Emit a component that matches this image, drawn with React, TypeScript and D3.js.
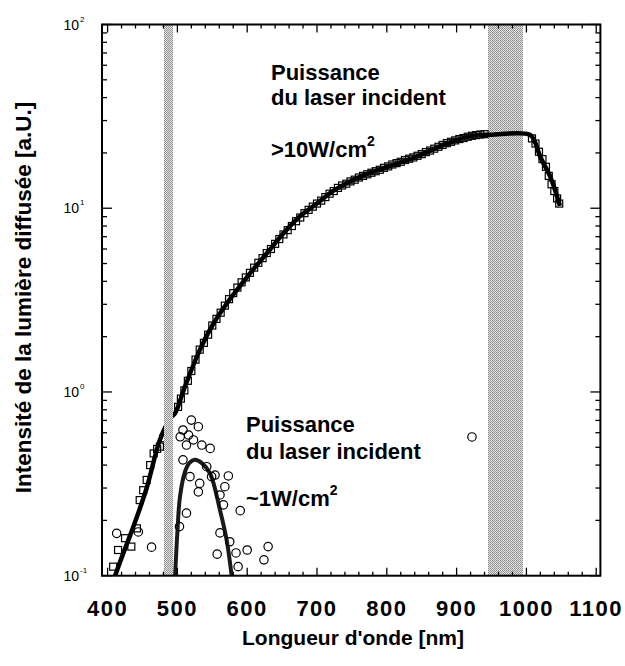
import React from "react";
import * as d3 from "d3";

// ---------- data ----------
const xTickValues = [400, 500, 600, 700, 800, 900, 1000, 1100];
const yDecades = [0.1, 1, 10, 100];
const yTickExponents = ["-1", "0", "1", "2"];

// shaded wavelength bands [nm]
const bandLow = [481, 494];
const bandHigh = [945, 995];

// high-power spectrum (>10 W/cm2): square markers
const highX = [408, 415, 425, 434, 442, 446, 451, 456, 461, 466, 471, 475, 480, 486, 501, 505, 510, 515, 520, 526, 532, 538, 544, 550, 556, 562, 568, 574, 580, 586, 592, 598, 604, 610, 616, 622, 628, 634, 640, 646, 652, 658, 664, 670, 676, 682, 688, 694, 700, 706, 712, 718, 724, 730, 736, 742, 748, 754, 760, 766, 772, 778, 784, 790, 796, 802, 808, 814, 820, 826, 832, 838, 844, 850, 856, 862, 868, 874, 880, 886, 892, 898, 904, 910, 916, 922, 928, 934, 940, 1008, 1013, 1018, 1023, 1028, 1032, 1036, 1040, 1044, 1047];
const highY = [0.112, 0.138, 0.16, 0.144, 0.181, 0.258, 0.292, 0.332, 0.4, 0.463, 0.49, 0.504, 0.56, 0.62, 0.83, 0.92, 1.02, 1.15, 1.3, 1.5, 1.7, 1.85, 2.05, 2.3, 2.5, 2.7, 2.95, 3.2, 3.45, 3.7, 3.95, 4.2, 4.45, 4.75, 5.05, 5.35, 5.7, 6.0, 6.4, 6.8, 7.2, 7.6, 8.0, 8.5, 8.9, 9.4, 9.8, 10.2, 10.6, 11.0, 11.5, 12.0, 12.4, 12.9, 13.3, 13.6, 14.0, 14.3, 14.7, 15.0, 15.3, 15.6, 15.9, 16.2, 16.6, 16.9, 17.3, 17.6, 17.9, 18.3, 18.6, 18.9, 19.3, 19.7, 20.2, 20.6, 21.1, 21.6, 22.1, 22.6, 23.0, 23.4, 23.8, 24.1, 24.5, 24.8, 25.0, 25.2, 25.3, 24.0, 22.5, 20.3, 18.5, 16.8, 15.0, 13.5, 12.4, 11.3, 10.6];

// high-power fitted curve
const highFitX = [410, 420, 437, 456, 475, 490, 497, 510, 532, 550, 571, 604, 630, 652, 675, 700, 720, 738, 765, 795, 820, 843, 865, 886, 905, 925, 945, 1005, 1012, 1020, 1034, 1048];
const highFitY = [0.098, 0.125, 0.185, 0.3, 0.55, 0.72, 0.77, 1.05, 1.69, 2.3, 3.04, 4.42, 5.8, 7.3, 9.0, 10.6, 12.2, 13.4, 15.0, 16.5, 17.8, 19.1, 20.8, 22.5, 23.8, 24.9, 25.1, 25.1, 23.0, 19.0, 14.9, 10.3];

// low-power spectrum (~1 W/cm2): circle markers
const lowX = [413, 444, 463, 520, 530, 508, 504, 516, 523, 535, 547, 513, 508, 542, 518, 532, 549, 554, 573, 568, 530, 561, 566, 590, 513, 503, 561, 575, 584, 600, 630, 557, 624, 587, 922];
const lowY = [0.17, 0.173, 0.143, 0.703, 0.647, 0.621, 0.57, 0.583, 0.548, 0.514, 0.493, 0.514, 0.427, 0.392, 0.346, 0.318, 0.346, 0.353, 0.349, 0.305, 0.286, 0.275, 0.243, 0.226, 0.219, 0.185, 0.171, 0.153, 0.133, 0.138, 0.144, 0.131, 0.122, 0.112, 0.569];

// low-power fitted curve
const lowFitX = [496.6, 499.9, 503.7, 510.9, 517, 525, 535, 546.7, 561, 570.6, 578];
const lowFitY = [0.098, 0.17, 0.269, 0.368, 0.41, 0.427, 0.41, 0.361, 0.228, 0.156, 0.098];

// ---------- layout ----------
const W = 625;
const H = 666;
const left = 102;
const right = 600.4;
const top = 24.5;
const bottom = 575.7;
const FONT = "'Liberation Sans', Arial, Helvetica, sans-serif";

export default function App() {
  const x = d3.scaleLinear().domain([392, 1106]).range([left, right]);
  const y = d3.scaleLog().domain([0.1, 100]).range([bottom, top]);

  const xMinor = d3.range(400, 1101, 20).filter((v) => v % 100 !== 0);
  const yMinor: number[] = [];
  [0.1, 1, 10].forEach((d) => {
    for (let k = 2; k <= 9; k++) yMinor.push(d * k);
  });

  const highFit = highFitX.map((v, i) => [v, highFitY[i]] as [number, number]);
  const lowFit = lowFitX.map((v, i) => [v, lowFitY[i]] as [number, number]);
  const line = d3
    .line<[number, number]>()
    .x((d) => x(d[0]))
    .y((d) => y(d[1]))
    .curve(d3.curveCatmullRom.alpha(0.5));

  const sq = 7;

  const band = (b: number[], key: string) => (
    <rect
      key={key}
      x={Math.round(x(b[0]))}
      y={top}
      width={Math.round(x(b[1]) - x(b[0]))}
      height={bottom - top}
      fill="url(#dither)"
    />
  );

  return (
    <svg
      width={W}
      height={H}
      style={{ position: "absolute", left: 0, top: 0, background: "#fff" }}
      fontFamily={FONT}
    >
      <defs>
        <pattern id="dither" width="2" height="2" patternUnits="userSpaceOnUse">
          <rect width="2" height="2" fill="#e4e4e4" />
          <rect width="1" height="1" fill="#8a8a8a" />
          <rect x="1" y="1" width="1" height="1" fill="#9a9a9a" />
        </pattern>
        <clipPath id="plotClip">
          <rect x={left} y={top} width={right - left} height={bottom - top} />
        </clipPath>
      </defs>

      {/* band behind curve */}
      {band(bandHigh, "bh")}

      <g clipPath="url(#plotClip)">
        <path d={line(highFit) || ""} fill="none" stroke="#000" strokeWidth={4.5} />
        {highX.map((v, i) => (
          <rect
            key={"s" + i}
            x={x(v) - sq / 2}
            y={y(highY[i]) - sq / 2}
            width={sq}
            height={sq}
            fill="none"
            stroke="#000"
            strokeWidth={1.2}
          />
        ))}
        <path d={line(lowFit) || ""} fill="none" stroke="#1a1a1a" strokeWidth={4} />
        {lowX.map((v, i) => (
          <circle
            key={"c" + i}
            cx={x(v)}
            cy={y(lowY[i])}
            r={4.2}
            fill="none"
            stroke="#000"
            strokeWidth={1.2}
          />
        ))}
      </g>

      {/* band over curve */}
      {band(bandLow, "bl")}

      {/* ticks */}
      <g stroke="#000" strokeWidth={1.3}>
        {xTickValues.map((v) => (
          <g key={"xt" + v}>
            <line x1={x(v)} x2={x(v)} y1={bottom} y2={bottom - 8} />
            <line x1={x(v)} x2={x(v)} y1={top} y2={top + 8} />
          </g>
        ))}
        {xMinor.map((v) => (
          <g key={"xm" + v}>
            <line x1={x(v)} x2={x(v)} y1={bottom} y2={bottom - 4} />
            <line x1={x(v)} x2={x(v)} y1={top} y2={top + 4} />
          </g>
        ))}
        {yDecades.map((v) => (
          <g key={"yt" + v}>
            <line x1={left} x2={left + 10} y1={y(v)} y2={y(v)} />
            <line x1={right} x2={right - 10} y1={y(v)} y2={y(v)} />
          </g>
        ))}
        {yMinor.map((v) => (
          <g key={"ym" + v}>
            <line x1={left} x2={left + 5} y1={y(v)} y2={y(v)} />
            <line x1={right} x2={right - 5} y1={y(v)} y2={y(v)} />
          </g>
        ))}
      </g>

      {/* frame */}
      <rect
        x={left}
        y={top}
        width={right - left}
        height={bottom - top}
        fill="none"
        stroke="#000"
        strokeWidth={2}
      />

      {/* x tick labels */}
      {xTickValues.map((v) => (
        <text
          key={"xl" + v}
          x={x(v)}
          y={616}
          textAnchor="middle"
          fontSize={22}
          fontWeight="bold"
          letterSpacing={1.5}
        >
          {v}
        </text>
      ))}

      {/* y tick labels */}
      {yDecades.map((v) => (
        <text key={"yl" + v} x={79} y={y(v) + 5} textAnchor="end" fontSize={14}>
          10
        </text>
      ))}
      {yDecades.map((v, i) => (
        <text key={"ye" + v} x={80} y={y(v) - 3} fontSize={8}>
          {yTickExponents[i]}
        </text>
      ))}

      {/* axis titles */}
      <text x={242} y={645} fontSize={21} fontWeight="bold">
        Longueur d'onde [nm]
      </text>
      <text
        transform={`translate(31,${(97 + 498) / 2}) rotate(-90)`}
        textAnchor="middle"
        fontSize={22.5}
        fontWeight="bold"
      >
        Intensité de la lumière diffusée [a.U.]
      </text>

      {/* annotations */}
      <g fontSize={22} fontWeight="bold">
        <text x={271} y={80}>Puissance</text>
        <text x={271} y={105}>du laser incident</text>
        <text x={271} y={157}>
          &gt;10W/cm
          <tspan fontSize={14} dy={-11}>2</tspan>
        </text>
        <text x={246} y={432}>Puissance</text>
        <text x={246} y={459}>du laser incident</text>
        <text x={246} y={506}>
          ~1W/cm
          <tspan fontSize={14} dy={-11}>2</tspan>
        </text>
      </g>
    </svg>
  );
}
